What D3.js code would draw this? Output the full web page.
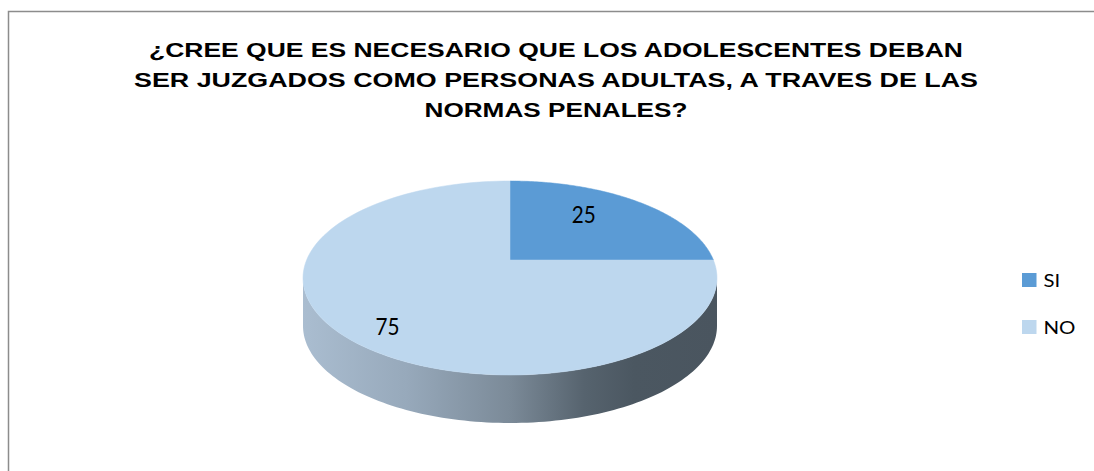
<!DOCTYPE html>
<html>
<head>
<meta charset="utf-8">
<script src="https://cdn.jsdelivr.net/npm/d3@7"></script>
<style>
  html, body { margin: 0; padding: 0; background: #ffffff; }
  svg { display: block; }
</style>
</head>
<body>
<svg id="chart" width="1094" height="471"></svg>
<script>
// ---- data ----
const categories = ["SI", "NO"];
const values = [25, 75];
const titleLines = [
  "¿CREE QUE ES NECESARIO QUE LOS ADOLESCENTES DEBAN",
  "SER JUZGADOS COMO PERSONAS ADULTAS, A TRAVES DE LAS",
  "NORMAS PENALES?"
];

// ---- styles / layout ----
const colors = ["#5b9bd5", "#bdd7ee"];
const W = 1094, H = 471;
const svg = d3.select("#chart");

// frame
svg.append("rect")
  .attr("x", 8.5).attr("y", 11.5)
  .attr("width", 1200).attr("height", 600)
  .attr("fill", "#ffffff")
  .attr("stroke", "#8c8c8c").attr("stroke-width", 1.5);

// title
const titleWidths = [814, 844, 263];
const titleG = svg.append("g");
titleLines.forEach((t, i) => {
  titleG.append("text")
    .attr("x", 556).attr("y", 56.7 + i * 30)
    .attr("text-anchor", "middle")
    .attr("font-family", "'Liberation Sans', Arial, sans-serif")
    .attr("font-weight", "bold")
    .attr("font-size", "19.5px")
    .attr("fill", "#000")
    .attr("textLength", titleWidths[i])
    .attr("lengthAdjust", "spacingAndGlyphs")
    .text(t);
});

// ---- 3D pie projection ----
const cx = 510, cy = 260;        // projected centre of the pie
const A = 203.4, B = 93.66;      // horizontal / depth radii
const k = 0.1856;                // perspective factor
const depth = 48;                // thickness of the pie

function proj(theta, r) {
  const u = r * Math.sin(theta);
  const v = -r * Math.cos(theta);
  const w = 1 - k * v;
  return [cx + A * u / w, cy + B * v / w];
}

const pie = d3.pie().sort(null).startAngle(0).endAngle(2 * Math.PI);
const arcs = pie(values);

const angleSteps = d3.range(0, 1.0001, 1 / 120);

// side (front rim) - visible part between the silhouette points
const t1 = Math.acos(-k), t2 = 2 * Math.PI - t1;
const defs = svg.append("defs");
const grad = defs.append("linearGradient")
  .attr("id", "sideGrad")
  .attr("gradientUnits", "userSpaceOnUse")
  .attr("x1", cx - A / Math.sqrt(1 - k * k)).attr("y1", 0)
  .attr("x2", cx + A / Math.sqrt(1 - k * k)).attr("y2", 0);
[[0, "#aabdd0"], [0.25, "#97a9bb"], [0.5, "#7b8a98"], [0.68, "#56636e"], [0.8, "#4b5761"], [1, "#4a555f"]]
  .forEach(([o, c]) => grad.append("stop").attr("offset", o).attr("stop-color", c));

function rimPath(a0, a1) {
  const ts = angleSteps.map(s => a0 + (a1 - a0) * s);
  const top = ts.map(t => proj(t, 1));
  const bot = ts.slice().reverse().map(t => { const p = proj(t, 1); return [p[0], p[1] + depth]; });
  return d3.line()(top.concat(bot)) + "Z";
}

// draw the rim for each slice portion that lies in the visible front range
arcs.forEach((a, i) => {
  const a0 = Math.max(a.startAngle, t1), a1 = Math.min(a.endAngle, t2);
  if (a1 > a0) {
    svg.append("path")
      .attr("d", rimPath(a0, a1))
      .attr("fill", "url(#sideGrad)");
  }
});

// top faces
arcs.forEach((a, i) => {
  const ts = angleSteps.map(s => a.startAngle + (a.endAngle - a.startAngle) * s);
  const pts = [proj(0, 0)].concat(ts.map(t => proj(t, 1)));
  svg.append("path")
    .attr("d", d3.line()(pts) + "Z")
    .attr("fill", colors[i])
    .attr("stroke", colors[i]).attr("stroke-width", 0.5);
});

// data labels
const labelR = [0.67, 0.82];
const labelShift = [-8.5, -4.5];   // angular nudge in degrees
arcs.forEach((a, i) => {
  const mid = (a.startAngle + a.endAngle) / 2 + labelShift[i] * Math.PI / 180;
  const p = proj(mid, labelR[i]);
  svg.append("text")
    .attr("x", p[0]).attr("y", p[1] + 8.5)
    .attr("text-anchor", "middle")
    .attr("font-family", "Lato, 'Open Sans', sans-serif")
    .attr("font-size", "24px")
    .attr("fill", "#000")
    .attr("textLength", 24)
    .attr("lengthAdjust", "spacingAndGlyphs")
    .text(values[i]);
});

// legend
const legY = d3.scalePoint().domain(categories).range([280, 327]);
const legTextW = [16.7, 32];
categories.forEach((c, i) => {
  const y = legY(c);
  svg.append("rect")
    .attr("x", 1022).attr("y", y - 7)
    .attr("width", 14.5).attr("height", 14)
    .attr("fill", colors[i]);
  svg.append("text")
    .attr("x", 1043.5).attr("y", y + 6.5)
    .attr("font-family", "Lato, 'Open Sans', sans-serif")
    .attr("font-size", "17.7px")
    .attr("fill", "#000")
    .attr("textLength", legTextW[i])
    .attr("lengthAdjust", "spacingAndGlyphs")
    .text(c);
});
</script>
</body>
</html>
